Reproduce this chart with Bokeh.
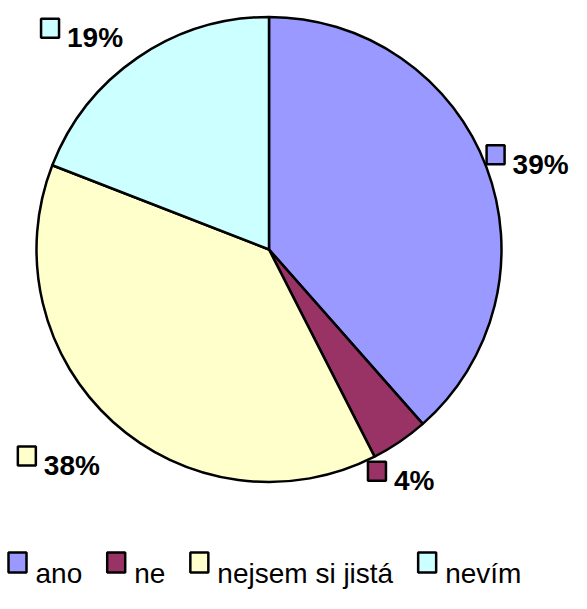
import math
from bokeh.plotting import figure
from bokeh.models import Range1d, ColumnDataSource
from bokeh.core.properties import value
from bokeh.embed import file_html
from bokeh.resources import INLINE

# ---- data ----
categories = ["ano", "ne", "nejsem si jistá", "nevím"]
shares = [38.5, 4.0, 38.4, 19.1]
pct_labels = ["39%", "4%", "38%", "19%"]
colors = ["#9999FF", "#993366", "#FFFFCC", "#CCFFFF"]

# ---- layout helpers ----
W, H = 571, 593
FONT = "Liberation Sans"
FS = 28


def px(x):
    return x


def py(y):
    return H - y


REG = {'a': .556, 'n': .556, 'o': .556, 'e': .556, 'j': .222, 's': .5, 'm': .833,
       ' ': .278, 'i': .222, 't': .278, 'á': .556, 'v': .5, 'í': .278}
BOLD = {'%': .889}


def tw(s, table, size=FS):
    return sum(table.get(c, .556) for c in s) * size


CX, CY, R = px(268.5), py(249), 232.5

p = figure(width=W, height=H, x_range=Range1d(0, W), y_range=Range1d(0, H),
           output_backend="svg", toolbar_location=None, min_border=0,
           x_axis_type=None, y_axis_type=None)
p.grid.visible = False
p.outline_line_color = None
p.background_fill_color = "white"
p.border_fill_color = "white"

total = sum(shares)
starts, ends, mids = [], [], []
cum = 0.0
for s in shares:
    f0 = cum / total
    f1 = (cum + s) / total
    starts.append(math.pi / 2 - 2 * math.pi * f1)
    ends.append(math.pi / 2 - 2 * math.pi * f0)
    mids.append(math.pi / 2 - 2 * math.pi * (f0 + f1) / 2)
    cum += s

src = ColumnDataSource(dict(start=starts, end=ends, color=colors, cat=categories))
p.wedge(x=CX, y=CY, radius=R, start_angle="start", end_angle="end",
        fill_color="color", line_color="black", line_width=2.5, source=src)

# ---- data labels ----
BOX_W, BOX_H, GAP = 18, 19, 8
D = 285
nudges = [(-8, 6), (-28, -14), (-19, -5), (-26, 14)]  # page px (x right, y down)
bx, by, tx, ty = [], [], [], []
for lab, th, (nx, ny) in zip(pct_labels, mids, nudges):
    cxl = CX + D * math.cos(th) + nx
    cyl = CY + D * math.sin(th) - ny
    wl = BOX_W + GAP + tw(lab, BOLD)
    left = cxl - wl / 2
    bx.append(left + BOX_W / 2)
    by.append(cyl)
    tx.append(left + BOX_W + GAP)
    ty.append(cyl - BOX_H / 2)
p.rect(x=bx, y=by, width=BOX_W, height=BOX_H, fill_color=colors,
       line_color="black", line_width=2.5)
p.text(x=tx, y=ty, text=pct_labels, text_font=value(FONT), text_font_size=f"{FS}px",
       text_font_style="bold", text_align="left", text_baseline="alphabetic",
       text_color="black")

# ---- legend ----
LEG_GAP_TXT, LEG_GAP_ITEM = 9, 25
base = py(573)
lx = px(8)
lbx, ltx = [], []
for c in categories:
    lbx.append(lx + BOX_W / 2)
    ltx.append(lx + BOX_W + LEG_GAP_TXT)
    lx += BOX_W + LEG_GAP_TXT + tw(c, REG) + LEG_GAP_ITEM
p.rect(x=lbx, y=[base + 11] * 4, width=BOX_W, height=BOX_H + 1, fill_color=colors,
       line_color="black", line_width=2.5)
p.text(x=ltx, y=[base] * 4, text=categories, text_font=value(FONT),
       text_font_size=f"{FS}px", text_align="left", text_baseline="alphabetic",
       text_color="black")

open("out.html", "w").write(file_html(p, INLINE))
